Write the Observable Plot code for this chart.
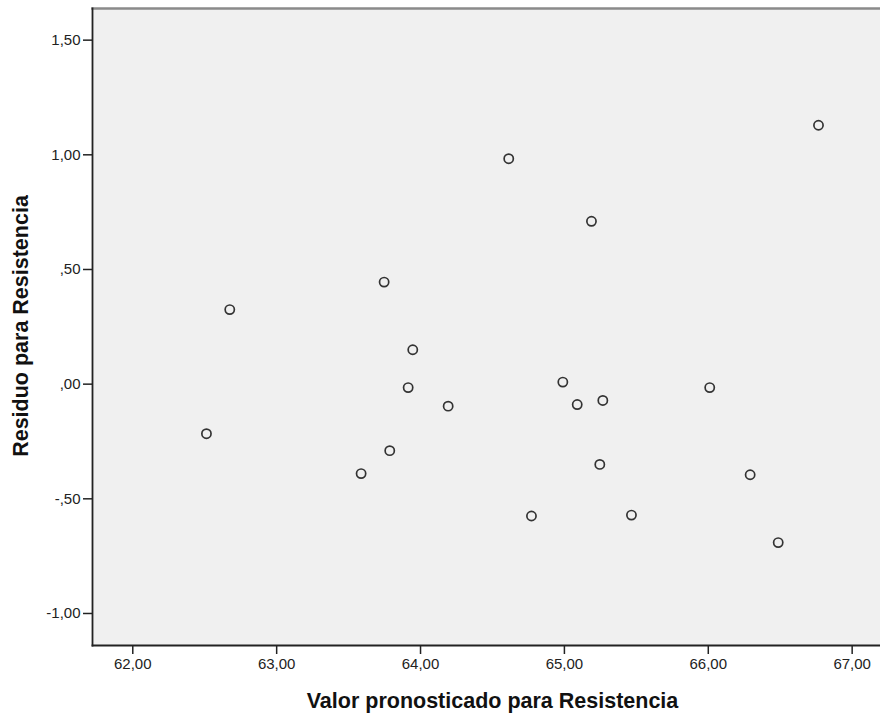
<!DOCTYPE html>
<html>
<head>
<meta charset="utf-8">
<script src="https://cdn.jsdelivr.net/npm/d3@7"></script>
<script src="https://cdn.jsdelivr.net/npm/@observablehq/plot@0.6"></script>
<style>
  html, body { margin: 0; padding: 0; background: #ffffff; }
  #chart svg { display: block; }
</style>
</head>
<body>
<div id="chart"></div>
<script>
// Predicted values (x) and residuals (y)
const predicted = [62.512, 62.674, 63.587, 63.747, 63.786, 63.914, 63.946, 64.192, 64.613, 64.771,
                   64.989, 65.089, 65.188, 65.246, 65.267, 65.466, 66.010, 66.291, 66.486, 66.766];
const residual  = [-0.216, 0.325, -0.390, 0.445, -0.290, -0.015, 0.150, -0.096, 0.983, -0.575,
                   0.009, -0.089, 0.710, -0.350, -0.071, -0.571, -0.015, -0.395, -0.691, 1.129];
const xTicks = [62, 63, 64, 65, 66, 67];
const yTicks = [-1.0, -0.5, 0.0, 0.5, 1.0, 1.5];
const xLabel = "Valor pronosticado para Resistencia";
const yLabel = "Residuo para Resistencia";

const points = predicted.map((p, i) => ({x: p, y: residual[i]}));

// SPSS-style number format: comma decimal, no leading zero
function spss(v) {
  const s = Math.abs(v).toFixed(2).replace(".", ",");
  const t = Math.abs(v) < 1 ? s.replace(/^0/, "") : s;
  return (v < 0 ? "-" : "") + t;
}

const xDomain = [61.720, 67.197];
const yDomain = [-1.1396, 1.638];

const chart = Plot.plot({
  width: 880,
  height: 713,
  marginLeft: 92,
  marginRight: 0,
  marginTop: 8,
  marginBottom: 68,
  style: {fontFamily: "'Liberation Sans', Arial, sans-serif", fontSize: "15px", background: "#ffffff", color: "#222"},
  x: {domain: xDomain, axis: null},
  y: {domain: yDomain, axis: null},
  marks: [
    Plot.frame({fill: "#f0f0f0", stroke: null}),
    Plot.axisX(xTicks, {tickFormat: spss, tickSize: 9, tickPadding: 4, stroke: "#222", strokeWidth: 1.5, fill: "#222", fontSize: 15, label: null}),
    Plot.axisY(yTicks, {tickFormat: spss, tickSize: 9, tickPadding: 3, stroke: "#222", strokeWidth: 1.5, fill: "#222", fontSize: 15, label: null}),
    Plot.frame({anchor: "top", stroke: "#8a8a8a", strokeWidth: 2.5}),
    Plot.frame({anchor: "left", stroke: "#222", strokeWidth: 1.8}),
    Plot.frame({anchor: "bottom", stroke: "#222", strokeWidth: 1.8}),
    Plot.dot(points, {x: "x", y: "y", r: 4.6, stroke: "#333", strokeWidth: 1.7, fill: "none"}),
    Plot.text([xLabel], {frameAnchor: "bottom", textAnchor: "middle", dx: 6, dy: 56, lineAnchor: "middle", fontSize: 21.5, fontWeight: "bold", fill: "#111"}),
    Plot.text([yLabel], {frameAnchor: "left", textAnchor: "middle", dx: -71, dy: -1, rotate: -90, lineAnchor: "middle", fontSize: 21.5, fontWeight: "bold", fill: "#111"})
  ]
});
document.getElementById("chart").appendChild(chart);
</script>
</body>
</html>
